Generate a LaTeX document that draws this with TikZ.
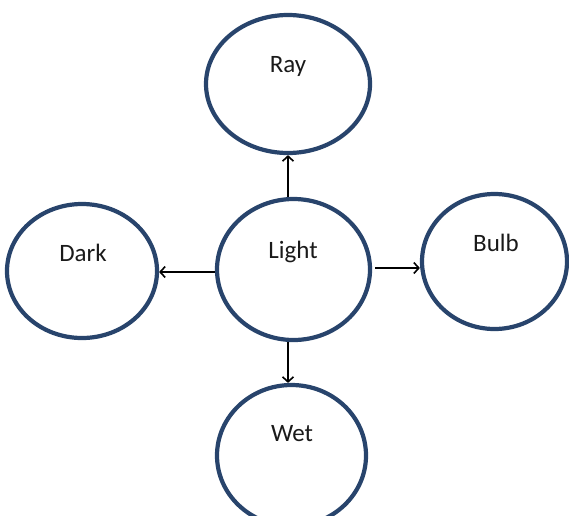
\documentclass[tikz,border=0pt]{standalone}
\usepackage{fontspec}
\setmainfont{Carlito}
\usetikzlibrary{shapes.geometric,arrows.meta}

\definecolor{ringblue}{RGB}{40,68,108}
\definecolor{labelgray}{RGB}{26,26,26}

\tikzset{
  bubble/.style={ellipse, draw=ringblue, line width=4.2pt, fill=white, inner sep=0pt},
  word/.style={anchor=base, text=labelgray, font=\fontsize{25}{29}\selectfont, inner sep=0pt},
  arr/.style={draw=black, line width=1.6pt, -{Straight Barb[length=5pt,width=11pt,line width=1.6pt]}}
}

\begin{document}
\begin{tikzpicture}[x=1pt,y=-1pt]
  \useasboundingbox (0,0) rectangle (569,515);

  % the five bubbles
  \node[bubble, minimum width=164pt, minimum height=138pt] (ray)   at (288,84)      {};
  \node[bubble, minimum width=153pt, minimum height=141pt] (light) at (293.5,269.5) {};
  \node[bubble, minimum width=149pt, minimum height=141pt] (wet)   at (291.5,455.5) {};
  \node[bubble, minimum width=150pt, minimum height=134pt] (dark)  at (82,271)      {};
  \node[bubble, minimum width=145pt, minimum height=135pt] (bulb)  at (494.5,261.5) {};

  % their words
  \node[word] (rayw)   at (288,72)  {Ray};
  \node[word] (lightw) at (293,258) {Light};
  \node[word] (wetw)   at (292,441) {Wet};
  \node[word] (darkw)  at (83,261)  {Dark};
  \node[word] (bulbw)  at (496,251) {Bulb};

  % feet of the vertical arrows
  \coordinate (downstart) at (light.south -| ray.south);
  \coordinate (downend)   at (wet.north -| ray.south);

  % arrows out of the centre
  \draw[arr] (light.north -| ray.south) -- (ray.south);
  \draw[arr] ([yshift=-2.5pt]light.west) -- ([yshift=-2.5pt]light.west -| dark.east);
  \draw[arr] ([xshift=3pt,yshift=1.5pt]light.east) -- ([yshift=1.5pt]light.east -| bulb.west);
  \draw[arr] (downstart) -- (downend);
\end{tikzpicture}
\end{document}
